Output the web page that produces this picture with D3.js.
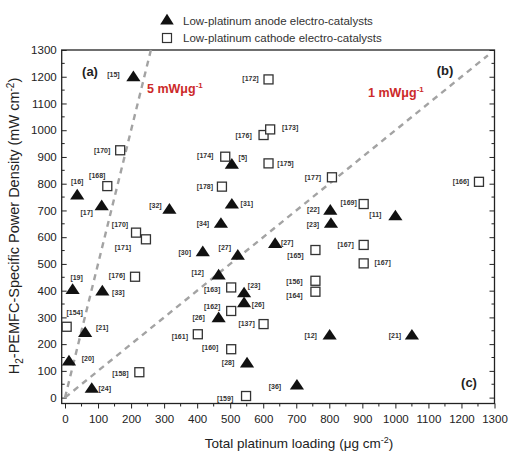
<!DOCTYPE html>
<html>
<head>
<meta charset="utf-8">
<script src="https://cdn.jsdelivr.net/npm/d3@7"></script>
<style>
  html, body { margin: 0; padding: 0; background: #fff; }
  svg { display: block; font-family: "Liberation Sans", Arial, sans-serif; }
</style>
</head>
<body>
<svg id="chart" width="509" height="454"></svg>
<script>
// Low-platinum anode electro-catalysts: loading (µg cm-2), power density (mW cm-2), reference
const anodeLoading = [207, 505, 37, 111, 316, 505, 803, 1000, 805, 472, 417, 523, 636, 465, 23, 113, 542, 542, 465, 61, 801, 1050, 551, 12, 81, 702];
const anodePower   = [1200, 873, 758, 718, 705, 724, 701, 680, 652, 652, 546, 533, 577, 459, 405, 399, 392, 355, 299, 244, 234, 234, 130, 137, 35, 47];
const anodeRef     = ["[15]", "[5]", "[16]", "[17]", "[32]", "[31]", "[22]", "[11]", "[23]", "[34]", "[30]", "[27]", "[27]", "[12]", "[19]", "[33]", "[23]", "[26]", "[26]", "[21]", "[12]", "[21]", "[28]", "[20]", "[24]", "[36]"];

// Low-platinum cathode electro-catalysts
const cathodeLoading = [616, 601, 621, 167, 485, 616, 808, 1253, 128, 475, 904, 215, 245, 758, 904, 904, 212, 503, 758, 758, 503, 601, 5, 402, 503, 225, 548];
const cathodePower   = [1190, 982, 1003, 925, 901, 876, 824, 807, 791, 789, 724, 617, 592, 552, 571, 502, 452, 412, 437, 396, 324, 275, 265, 237, 181, 95, 6];
const cathodeRef     = ["[172]", "[176]", "[173]", "[170]", "[174]", "[175]", "[177]", "[166]", "[168]", "[178]", "[169]", "[170]", "[171]", "[165]", "[167]", "[167]", "[176]", "[163]", "[156]", "[164]", "[162]", "[137]", "[154]", "[161]", "[160]", "[158]", "[159]"];

// Reference-tag placement around each marker (dx, dy in px)
const anodeTagOffset = [[-20,-2],[11,-7],[0,-13],[-15,7],[-14,-4],[15,-1],[-17,-1],[-20,-1],[-18,1],[-18,0],[-18,1],[-13,-8],[12,-1],[-21,-2],[4,-12],[16,2],[10,-7],[14,2],[-20,0],[17,-5],[-19,0],[-17,0],[-19,0],[19,-2],[13,0],[-22,1]];
const cathodeTagOffset = [[-18,-1],[-20,0],[20,-2],[-18,0],[-20,-1],[17,0],[-19,0],[-18,0],[-10,-11],[-17,0],[-15,-2],[-16,-8],[-23,8],[-20,5],[-18,0],[19,-1],[-18,-1],[-19,2],[-21,1],[-21,4],[-19,-4],[-17,-1],[8,-14],[-18,2],[-21,-2],[-19,1],[-21,2]];

// Specific-power guide lines (mW per µg Pt) and their extents on the loading axis
const guideSlopes = [5, 1];
const guideEnds = [260, 1280];
const guideTexts = ["5 mWμg", "1 mWμg"];

const xTicks = d3.range(0, 1301, 100);
const yTicks = d3.range(0, 1301, 100);
const xMinor = d3.range(50, 1300, 100);
const yMinor = d3.range(50, 1300, 100);

const svg = d3.select("#chart");
const plotL = 61.7, plotR = 494.5, plotT = 50, plotB = 403.5;

const x = d3.scaleLinear().domain([-10, 1300]).range([plotL, plotR]);
const y = d3.scaleLinear().domain([-22, 1300]).range([plotB, plotT]);
const fmt = d3.format("d");

// frame
svg.append("rect")
  .attr("x", plotL).attr("y", plotT)
  .attr("width", plotR - plotL).attr("height", plotB - plotT)
  .attr("fill", "none").attr("stroke", "#222").attr("stroke-width", 1.3);

// bottom axis (outward ticks)
const xAxis = svg.append("g").attr("transform", `translate(0,${plotB})`)
  .call(d3.axisBottom(x).tickValues(xTicks).tickFormat(fmt).tickSize(5).tickPadding(6));
xAxis.append("g").selectAll("line").data(xMinor).join("line")
  .attr("x1", d => x(d)).attr("x2", d => x(d)).attr("y1", 0).attr("y2", 3)
  .attr("stroke", "#222");

// left axis (inward ticks)
const yAxis = svg.append("g").attr("transform", `translate(${plotL},0)`)
  .call(d3.axisLeft(y).tickValues(yTicks).tickFormat(fmt).tickSizeInner(-5).tickSizeOuter(0).tickPadding(5));
yAxis.selectAll(".tick text").attr("x", -5);
yAxis.append("g").selectAll("line").data(yMinor).join("line")
  .attr("y1", d => y(d)).attr("y2", d => y(d)).attr("x1", 0).attr("x2", 3)
  .attr("stroke", "#222");

// right axis (inward ticks, no labels)
const rAxis = svg.append("g").attr("transform", `translate(${plotR},0)`)
  .call(d3.axisRight(y).tickValues(yTicks).tickSizeInner(-5).tickSizeOuter(0).tickFormat(""));
rAxis.append("g").selectAll("line").data(yMinor).join("line")
  .attr("y1", d => y(d)).attr("y2", d => y(d)).attr("x1", 0).attr("x2", -3)
  .attr("stroke", "#222");

[xAxis, yAxis, rAxis].forEach(g => {
  g.select(".domain").remove();
  g.selectAll(".tick line").attr("stroke", "#222");
  g.selectAll(".tick text").attr("fill", "#222")
    .style("font-size", "11.5px").style("font-family", "'Liberation Sans', Arial, sans-serif");
});

// guide lines
svg.append("g").selectAll("line").data(guideSlopes).join("line")
  .attr("x1", x(0)).attr("y1", y(0))
  .attr("x2", (s, i) => x(guideEnds[i]))
  .attr("y2", (s, i) => y(s * guideEnds[i]))
  .attr("stroke", "#a3a3a3").attr("stroke-width", 2.4)
  .attr("stroke-dasharray", "6,5");

// guide labels
const guidePos = [[147, 93], [368, 97]];
guideTexts.forEach((t, i) => {
  const txt = svg.append("text").attr("x", guidePos[i][0]).attr("y", guidePos[i][1])
    .attr("fill", "#cc2a2a").attr("font-weight", "bold").style("font-size", "12.5px")
    .text(t);
  txt.append("tspan").attr("dy", -5).style("font-size", "8px").text("-1");
});

// panel letters
[["(a)", 90, 76], ["(b)", 445, 75], ["(c)", 469, 387]].forEach(([t, px, py]) => {
  svg.append("text").attr("x", px).attr("y", py).attr("text-anchor", "middle")
    .attr("font-weight", "bold").style("font-size", "13px").attr("fill", "#222").text(t);
});

const tri = d3.symbol().type(d3.symbolTriangle).size(66);

// cathode squares
const cath = svg.append("g");
cath.selectAll("rect").data(cathodeLoading).join("rect")
  .attr("x", (d) => x(d) - 4.5)
  .attr("y", (d, i) => y(cathodePower[i]) - 4.5)
  .attr("width", 9).attr("height", 9)
  .attr("fill", "#fff").attr("stroke", "#333").attr("stroke-width", 1.3);
cath.selectAll("text").data(cathodeRef).join("text")
  .attr("x", (d, i) => x(cathodeLoading[i]) + cathodeTagOffset[i][0])
  .attr("y", (d, i) => y(cathodePower[i]) + cathodeTagOffset[i][1] + 2.5)
  .attr("text-anchor", "middle").attr("font-weight", "bold")
  .style("font-size", "7px").attr("fill", "#333").text(d => d);

// anode triangles
const an = svg.append("g");
an.selectAll("path").data(anodeLoading).join("path")
  .attr("d", tri)
  .attr("transform", (d, i) => `translate(${x(d)},${y(anodePower[i]) + 1}) scale(1.15,1)`)
  .attr("fill", "#111");
an.selectAll("text").data(anodeRef).join("text")
  .attr("x", (d, i) => x(anodeLoading[i]) + anodeTagOffset[i][0])
  .attr("y", (d, i) => y(anodePower[i]) + anodeTagOffset[i][1] + 2.5)
  .attr("text-anchor", "middle").attr("font-weight", "bold")
  .style("font-size", "7px").attr("fill", "#333").text(d => d);

// legend
const legend = svg.append("g");
legend.append("path").attr("d", tri).attr("transform", "translate(167,21) scale(1.1,1)").attr("fill", "#111");
legend.append("rect").attr("x", 162.5).attr("y", 33.5).attr("width", 9).attr("height", 9)
  .attr("fill", "#fff").attr("stroke", "#333").attr("stroke-width", 1.2);
legend.append("text").attr("x", 183).attr("y", 25).style("font-size", "11.5px").attr("fill", "#333")
  .text("Low-platinum anode electro-catalysts");
legend.append("text").attr("x", 183).attr("y", 42).style("font-size", "11.5px").attr("fill", "#333")
  .text("Low-platinum cathode electro-catalysts");

// axis titles
const xt = svg.append("text").attr("x", 299).attr("y", 448).attr("text-anchor", "middle")
  .style("font-size", "13.5px").attr("fill", "#222").text("Total platinum loading (μg cm");
xt.append("tspan").attr("dy", -5).style("font-size", "9px").text("-2");
xt.append("tspan").attr("dy", 5).text(")");

const yt = svg.append("text").attr("transform", "translate(19,226) rotate(-90)")
  .attr("text-anchor", "middle").style("font-size", "14.5px").attr("fill", "#222");
yt.append("tspan").text("H");
yt.append("tspan").attr("dy", 4).style("font-size", "10px").text("2");
yt.append("tspan").attr("dy", -4).text("-PEMFC-Specific Power Density (mW cm");
yt.append("tspan").attr("dy", -5).style("font-size", "10px").text("-2");
yt.append("tspan").attr("dy", 5).text(")");
</script>
</body>
</html>
